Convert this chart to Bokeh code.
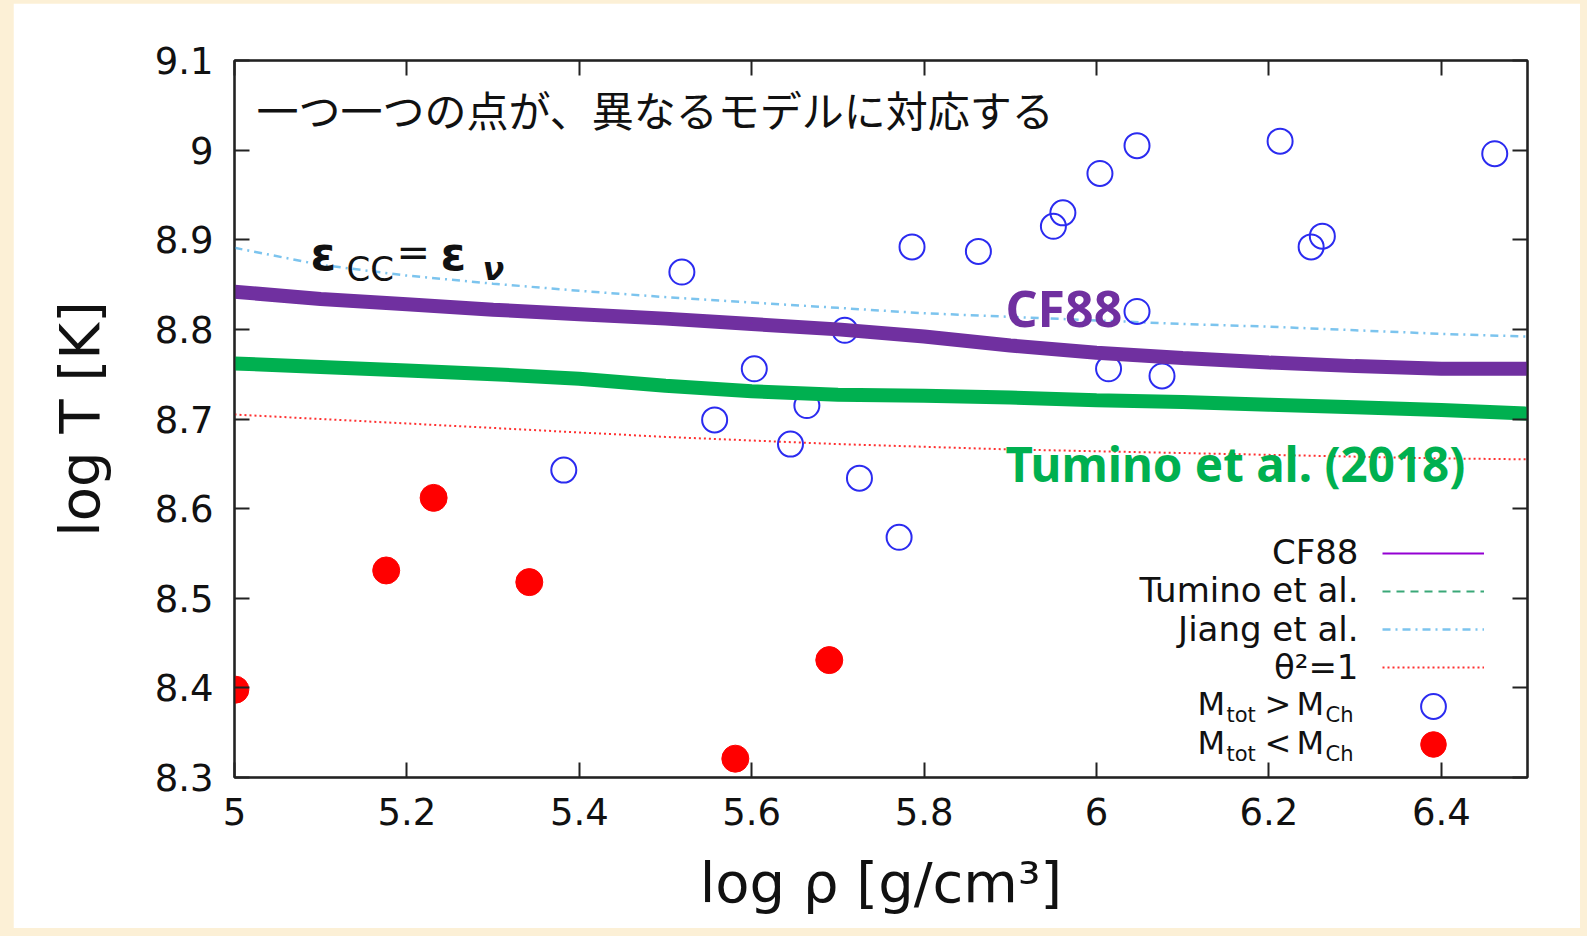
from bokeh.plotting import figure
from bokeh.models import (LinearAxis, FixedTicker, CustomJSTickFormatter, Label,
                          Legend, LegendItem, Range1d)
from bokeh.layouts import column
from bokeh.embed import file_html
from bokeh.resources import INLINE
from bokeh.core.properties import value

# ---------------- data ----------------
x_ticks = [5.0, 5.2, 5.4, 5.6, 5.8, 6.0, 6.2, 6.4]
y_ticks = [8.3, 8.4, 8.5, 8.6, 8.7, 8.8, 8.9, 9.0, 9.1]

curve_rho = [5.0, 5.1, 5.2, 5.3, 5.4, 5.5, 5.6, 5.7, 5.8, 5.9, 6.0, 6.1, 6.2, 6.3, 6.4, 6.5]
cf88_T    = [8.842, 8.834, 8.828, 8.822, 8.817, 8.812, 8.806, 8.800, 8.792, 8.782, 8.774, 8.768, 8.763, 8.759, 8.756, 8.756]
tumino_T  = [8.762, 8.758, 8.754, 8.750, 8.745, 8.737, 8.731, 8.727, 8.726, 8.724, 8.721, 8.719, 8.716, 8.713, 8.710, 8.706]
jiang_T   = [8.891, 8.872, 8.860, 8.851, 8.843, 8.836, 8.830, 8.824, 8.818, 8.814, 8.810, 8.806, 8.803, 8.799, 8.795, 8.792]
theta_T   = [8.705, 8.700, 8.695, 8.690, 8.685, 8.680, 8.676, 8.672, 8.669, 8.666, 8.664, 8.662, 8.660, 8.658, 8.656, 8.655]

# M_tot > M_Ch (open blue circles)
above_rho = [5.519, 5.382, 5.557, 5.603, 5.645, 5.664, 5.708, 5.725, 5.771, 5.786, 5.863,
             5.950, 5.961, 6.004, 6.047, 6.047, 6.014, 6.076, 6.213, 6.249, 6.262, 6.462]
above_T   = [8.864, 8.643, 8.699, 8.756, 8.672, 8.715, 8.799, 8.634, 8.568, 8.892, 8.887,
             8.915, 8.930, 8.974, 9.005, 8.820, 8.756, 8.748, 9.010, 8.892, 8.904, 8.996]
# M_tot < M_Ch (filled red circles)
below_rho = [5.001, 5.176, 5.231, 5.342, 5.581, 5.690]
below_T   = [8.398, 8.531, 8.612, 8.518, 8.321, 8.431]

# ---------------- figure ----------------
FIG_W, FIG_H = 1567, 925
OFF_X, OFF_Y = 13, 3
BL, BR, BT, BB = 221, 53, 57, 151
FRAME_LEFT = OFF_X + BL            # page x of frame left
FRAME_BOTTOM = OFF_Y + FIG_H - BB  # page y of frame bottom

p = figure(width=FIG_W, height=FIG_H, output_backend="svg", toolbar_location=None,
           x_range=Range1d(5.0, 6.5), y_range=Range1d(8.3, 9.1),
           min_border_left=BL, min_border_right=BR, min_border_top=BT, min_border_bottom=BB,
           background_fill_color="white", border_fill_color="white")
p.grid.visible = False
p.outline_line_color = "black"
p.outline_line_width = 2

fmt = CustomJSTickFormatter(code="return (Math.round(tick*10)/10).toString();")
blank = CustomJSTickFormatter(code="return '';")

def style_axis(ax, ticks, formatter):
    ax.ticker = FixedTicker(ticks=ticks, minor_ticks=[])
    ax.formatter = formatter
    ax.major_tick_in = 15
    ax.major_tick_out = 0
    ax.minor_tick_in = 0
    ax.minor_tick_out = 0
    ax.axis_line_width = 2
    ax.axis_line_color = "#222222"
    ax.major_tick_line_width = 2
    ax.major_tick_line_color = "#222222"
    ax.major_label_text_font = "DejaVu Sans"
    ax.major_label_text_font_size = "37px"
    ax.major_label_text_color = "#111111"
    ax.axis_label_text_font = "DejaVu Sans"
    ax.axis_label_text_font_style = "normal"
    ax.axis_label_text_color = "#111111"

xa = p.xaxis[0]
ya = p.yaxis[0]
style_axis(xa, x_ticks, fmt)
style_axis(ya, y_ticks, fmt)
xa.axis_label = "log ρ [g/cm³]"
xa.axis_label_text_font_size = "56px"
xa.major_label_standoff = 20
xa.axis_label_standoff = 22
ya.axis_label = "log T [K]"
ya.axis_label_text_font_size = "56px"
ya.major_label_standoff = 21
ya.axis_label_standoff = 40

top_ax = LinearAxis()
right_ax = LinearAxis()
style_axis(top_ax, x_ticks, blank)
style_axis(right_ax, y_ticks, blank)
top_ax.major_label_standoff = 0
right_ax.major_label_standoff = 0
p.add_layout(top_ax, "above")
p.add_layout(right_ax, "right")

# thin gnuplot lines
r_cf = p.line(curve_rho, cf88_T, line_color="#9400d3", line_width=2)
r_tu = p.line(curve_rho, tumino_T, line_color="#3aa878", line_width=2, line_dash="8 6")
r_ji = p.line(curve_rho, jiang_T, line_color="#7cc4ee", line_width=2.5, line_dash="8 5 2 5")
r_th = p.line(curve_rho, theta_T, line_color="#ff3030", line_width=2, line_dash="2 3")

# points
r_ab = p.scatter(above_rho, above_T, marker="circle", size=25, fill_color=None,
                 line_color="#2b2bf0", line_width=2)
r_be = p.scatter(below_rho, below_T, marker="circle", size=27, fill_color="#ff0000",
                 line_color="#ff0000", line_width=1)

# thick overlay lines
p.line(curve_rho, cf88_T, line_color="#7030a0", line_width=14, line_cap="round")
p.line(curve_rho, tumino_T, line_color="#00b050", line_width=14, line_cap="round")

def fx(X):
    return X - FRAME_LEFT

def fy(Y):
    return FRAME_BOTTOM - Y

def make_legend(renderers, glyph_h, center_first):
    n = len(renderers)
    bottom = center_first - glyph_h / 2 + n * glyph_h
    leg = Legend(items=[LegendItem(label=value(""), renderers=[r]) for r in renderers],
                 location=(fx(1382), fy(bottom)), orientation="vertical",
                 glyph_width=102, glyph_height=glyph_h, spacing=0,
                 label_width=0, label_standoff=0, label_height=0,
                 label_text_font_size="1px",
                 padding=0, margin=0, border_line_color=None,
                 background_fill_alpha=0)
    p.add_layout(leg, "center")

make_legend([r_cf, r_tu, r_ji, r_th], 38, 552.5)
make_legend([r_ab], 62, 705.5)
make_legend([r_be], 64, 744)

def lab(text, X, Y, size, color="#111111", font="DejaVu Sans", style="normal",
        align="left"):
    p.add_layout(Label(x=fx(X), y=fy(Y), x_units="screen", y_units="screen", text=text,
                       text_font=font, text_font_size=f"{size}px",
                       text_font_style=style, text_color=color,
                       text_align=align, text_baseline="middle"))

# legend texts
lab("CF88", 1358, 551, 34, align="right")
lab("Tumino et al.", 1358, 589, 34, align="right")
lab("Jiang et al.", 1358, 628, 34, align="right")
lab("θ²=1", 1358, 666, 34, align="right")
for mid, sym in ((703.5, ">"), (742.5, "<")):
    lab("M", 1197, mid, 32)
    lab("tot", 1226, mid + 11, 21)
    lab(sym, 1264, mid, 32)
    lab("M", 1296, mid, 32)
    lab("Ch", 1325, mid + 11, 21)

# annotations
lab("一つ一つの点が、異なるモデルに対応する", 256, 108, 42, font="Noto Sans CJK JP")
lab("ε", 310, 253, 46, style="bold")
lab("CC", 346, 268, 34)
lab("=", 396, 251, 40)
lab("ε", 440, 253, 46, style="bold")
lab("ν", 482, 268, 32, style="bold italic")
lab("CF88", 1005, 307, 50, color="#7030a0", style="bold", font="Noto Sans")
lab("Tumino et al. (2018)", 1005, 463, 47.5, color="#00b050", style="bold", font="Noto Sans")

page = column(p, styles={"background-color": "#fcf0d6",
                         "padding": f"{OFF_Y}px 7px 8px {OFF_X}px"})

open("out.html", "w").write(file_html(page, INLINE))
